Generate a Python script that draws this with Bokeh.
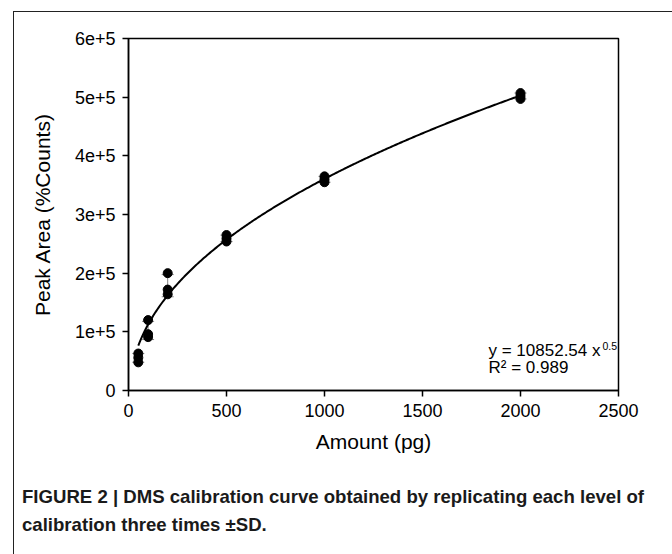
import numpy as np
from bokeh.plotting import figure
from bokeh.models import ColumnDataSource, Whisker, FixedTicker, Label, Div, TeeHead
from bokeh.layouts import column
from bokeh.embed import file_html
from bokeh.resources import INLINE

# ---- data ----
amount_levels = [50, 100, 200, 500, 1000, 2000]
replicate_1 = [63000, 120000, 200000, 265000, 365000, 507000]
replicate_2 = [56000, 96000, 172000, 259000, 360000, 502000]
replicate_3 = [48000, 91000, 164000, 254000, 355000, 497000]

# fitted calibration curve as drawn (parameters)
fit_a = 16230.0
fit_b = 0.457
fit_c = -20600.0
fit_x_start = 50
fit_x_end = 2000

x_ticks = [0, 500, 1000, 1500, 2000, 2500]
y_ticks = [0, 100000, 200000, 300000, 400000, 500000, 600000]
y_tick_labels = ["0", "1e+5", "2e+5", "3e+5", "4e+5", "5e+5", "6e+5"]

eq_text = "y = 10852.54 x"
eq_exp = "0.5"
r2_text = "R\u00b2 = 0.989"
caption_html = ("<b>FIGURE 2 | DMS calibration curve obtained by replicating each level of "
                "calibration three times \u00b1SD.</b>")

FONT = "Liberation Sans"
X_MAX = 2500
Y_MAX = 600000
FRAME_W = 490
FRAME_H = 352

p = figure(width=655, height=458, x_range=(0, X_MAX), y_range=(0, Y_MAX),
           output_backend="svg", toolbar_location=None,
           min_border_left=114, min_border_right=51, min_border_top=26, min_border_bottom=80)
p.background_fill_color = "white"
p.border_fill_color = "white"
p.outline_line_color = "black"
p.outline_line_width = 1.5
p.xgrid.visible = False
p.ygrid.visible = False

# points
xs_all = amount_levels * 3
ys_all = replicate_1 + replicate_2 + replicate_3
pts = ColumnDataSource(dict(x=xs_all, y=ys_all))

# error bars (mean +/- SD of the three replicates)
reps = np.array([replicate_1, replicate_2, replicate_3], dtype=float)
means = reps.mean(axis=0)
sds = reps.std(axis=0, ddof=1)
err = ColumnDataSource(dict(x=amount_levels, upper=means + sds, lower=means - sds))
wh = Whisker(base="x", upper="upper", lower="lower", source=err,
             line_color="#808080", line_width=1,
             upper_head=TeeHead(size=12, line_color="#808080", line_width=1),
             lower_head=TeeHead(size=12, line_color="#808080", line_width=1))
p.add_layout(wh)

# fit curve
cx = np.linspace(fit_x_start, fit_x_end, 300)
cy = fit_a * cx ** fit_b + fit_c
p.line(cx, cy, line_color="black", line_width=2)

p.scatter("x", "y", source=pts, size=9, fill_color="black", line_color="black")

# axes
for ax in (p.xaxis[0], p.yaxis[0]):
    ax.axis_line_color = "black"
    ax.axis_line_width = 1.5
    ax.major_tick_line_color = "black"
    ax.major_tick_line_width = 1.5
    ax.major_tick_in = 0
    ax.major_tick_out = 6
    ax.minor_tick_line_color = None
    ax.major_label_text_font = FONT
    ax.major_label_text_font_size = "18px"
    ax.major_label_text_color = "black"
    ax.axis_label_text_font = FONT
    ax.axis_label_text_font_size = "21px"
    ax.axis_label_text_font_style = "normal"
    ax.axis_label_text_color = "black"

p.xaxis.ticker = FixedTicker(ticks=x_ticks)
p.yaxis.ticker = FixedTicker(ticks=y_ticks)
p.yaxis.major_label_overrides = {t: lab for t, lab in zip(y_ticks, y_tick_labels)}
p.xaxis.axis_label = "Amount (pg)"
p.yaxis.axis_label = "Peak Area (%Counts)"
p.xaxis.major_label_standoff = 7
p.yaxis.major_label_standoff = 7
p.xaxis.axis_label_standoff = 10
p.yaxis.axis_label_standoff = 18

# equation annotations; offsets given in pixels from the frame's left / bottom
def lab(px_from_left, px_from_bottom, text, size):
    p.add_layout(Label(x=px_from_left / FRAME_W * X_MAX, y=px_from_bottom / FRAME_H * Y_MAX,
                       text=text, text_font=FONT, text_font_size=size,
                       text_color="black", text_align="left", text_baseline="alphabetic"))

lab(360, 40, eq_text, "17px")
lab(474, 45, eq_exp, "10.5px")
lab(360, 23, r2_text, "17px")

cap = Div(text=caption_html, width=655, height=80,
          styles={"font-family": "'Liberation Sans Narrow', 'Arial Narrow', 'Liberation Sans', sans-serif",
                  "font-size": "18.6px", "line-height": "28px", "color": "#1a1a1a",
                  "padding-top": "8px", "padding-left": "3px", "font-stretch": "condensed"})

layout = column(p, cap, spacing=0,
                styles={"border-top": "1px solid #222", "border-left": "1px solid #222",
                        "border-right": "1px solid #999", "margin-top": "11px", "margin-left": "13px"})

open("out.html", "w").write(file_html(layout, INLINE))
